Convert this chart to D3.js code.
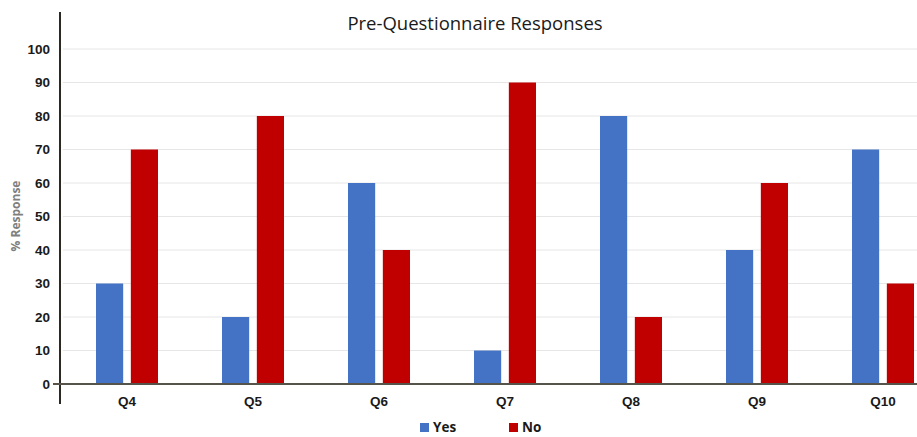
<!DOCTYPE html>
<html>
<head>
<meta charset="utf-8">
<script src="https://cdn.jsdelivr.net/npm/d3@7"></script>
<style>
  body { margin: 0; background: #fff; }
  svg { display: block; font-family: "Open Sans", "Noto Sans", sans-serif; }
</style>
</head>
<body>
<svg id="chart" width="917" height="437"></svg>
<script>
// chart data
const questions = ['Q4', 'Q5', 'Q6', 'Q7', 'Q8', 'Q9', 'Q10'];
const yesValues = [30, 20, 60, 10, 80, 40, 70];
const noValues = [70, 80, 40, 90, 20, 60, 30];
const seriesNames = ['Yes', 'No'];
const seriesColors = ['#4472C4', '#C00000'];
const yTicks = [0, 10, 20, 30, 40, 50, 60, 70, 80, 90, 100];

const svg = d3.select('#chart');

// plot runs off the right edge a little, like the original
const x = d3.scaleBand().domain(questions).range([64, 946]);
const xSub = d3.scaleBand().domain(seriesNames).range([-31, 31]).paddingInner(0.22);
const y = d3.scaleLinear().domain([0, 100]).range([384, 49]);

// gridlines
svg.append('g')
  .selectAll('line')
  .data(yTicks.filter((t) => t > 0))
  .join('line')
  .attr('x1', 63).attr('x2', 917)
  .attr('y1', (d) => y(d)).attr('y2', (d) => y(d))
  .attr('stroke', '#e6e6e6').attr('stroke-width', 1);

// bars
const rows = questions.map((q, i) => ({ q, values: [yesValues[i], noValues[i]] }));
const groups = svg.append('g')
  .selectAll('g')
  .data(rows)
  .join('g')
  .attr('transform', (d) => `translate(${x(d.q) + x.bandwidth() / 2},0)`);

groups.selectAll('rect')
  .data((d) => d.values.map((v, i) => ({ name: seriesNames[i], v, c: seriesColors[i] })))
  .join('rect')
  .attr('x', (d) => xSub(d.name))
  .attr('width', xSub.bandwidth())
  .attr('y', (d) => y(d.v))
  .attr('height', (d) => y(0) - y(d.v))
  .attr('fill', (d) => d.c);

// y axis
const yAxis = svg.append('g')
  .attr('transform', 'translate(60,0)')
  .call(d3.axisLeft(y).tickValues(yTicks).tickSize(0).tickPadding(10));
yAxis.select('.domain').remove();
yAxis.selectAll('text')
  .attr('font-size', 13.5).attr('font-weight', 'bold').attr('fill', '#1a1a1a');

svg.append('line')
  .attr('x1', 60).attr('x2', 60).attr('y1', 12).attr('y2', 404)
  .attr('stroke', '#2b2a22').attr('stroke-width', 2);

// x axis (zero line)
const xAxis = svg.append('g')
  .attr('transform', `translate(0,${y(0)})`)
  .call(d3.axisBottom(x).tickSize(0).tickPadding(12));
xAxis.select('.domain').remove();
xAxis.selectAll('text')
  .attr('font-size', 13.5).attr('font-weight', 'bold').attr('fill', '#1a1a1a');

svg.append('line')
  .attr('x1', 53).attr('x2', 917).attr('y1', y(0)).attr('y2', y(0))
  .attr('stroke', '#55534a').attr('stroke-width', 2);

// title
svg.append('text')
  .attr('x', 475).attr('y', 30)
  .attr('text-anchor', 'middle')
  .attr('font-size', 18.5).attr('fill', '#1a1a1a')
  .text('Pre-Questionnaire Responses');

// y label
svg.append('text')
  .attr('transform', 'translate(20,216) rotate(-90)')
  .attr('text-anchor', 'middle')
  .attr('font-size', 12).attr('font-weight', 'bold').attr('fill', '#7f7f7f')
  .text('% Response');

// legend
const legend = svg.append('g')
  .selectAll('g')
  .data(seriesNames)
  .join('g')
  .attr('transform', (d, i) => `translate(${420 + i * 89},423)`);
legend.append('rect')
  .attr('width', 9).attr('height', 9)
  .attr('fill', (d, i) => seriesColors[i]);
legend.append('text')
  .attr('x', 13).attr('y', 9)
  .attr('font-size', 13.5).attr('font-weight', 'bold').attr('fill', '#1a1a1a')
  .text((d) => d);
</script>
</body>
</html>
